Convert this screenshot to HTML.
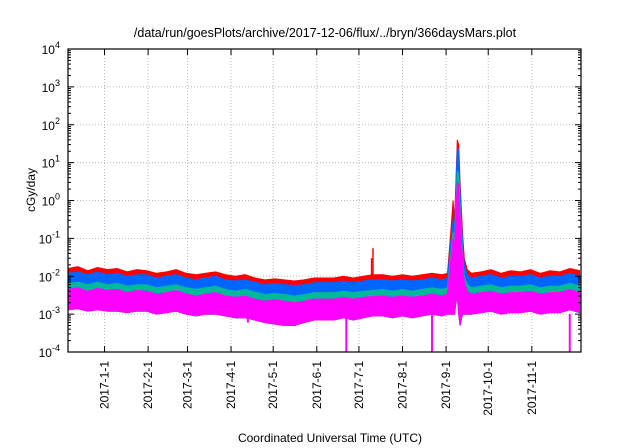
<!DOCTYPE html>
<html><head><meta charset="utf-8"><style>
html,body{margin:0;padding:0;background:#fff;}
svg{display:block;font-family:"Liberation Sans",sans-serif;}
</style></head><body>
<svg id="chart" width="640" height="448" viewBox="0 0 640 448">
<text x="325" y="37" font-size="12.5" text-anchor="middle">/data/run/goesPlots/archive/2017-12-06/flux/../bryn/366daysMars.plot</text>
<text transform="translate(35,190) rotate(-90)" font-size="12" text-anchor="middle">cGy/day</text>
<text x="330" y="442" font-size="12" text-anchor="middle">Coordinated Universal Time (UTC)</text>
<g id="grid"></g><g id="series"></g><g id="axes"></g>
</svg>
<script>
const days=[0,7,14,21,28,35,42,49,56,63,70,77,84,91,98,105,112,119,126,133,140,147,154,161,168,175,182,189,196,203,210,217,224,231,238,245,252,259,266,270,272,274,275,276,277,278,279,280,281,282,284,287,294,301,308,315,322,329,336,343,350,357,364];
const redTop=[0.016,0.018,0.014,0.017,0.015,0.016,0.013,0.015,0.014,0.012,0.013,0.015,0.012,0.011,0.012,0.013,0.011,0.010,0.011,0.009,0.008,0.0085,0.008,0.0075,0.008,0.009,0.009,0.009,0.010,0.009,0.010,0.011,0.011,0.010,0.011,0.010,0.011,0.012,0.011,
0.012,0.1,1.0,0.3,3,40,30,3,0.5,0.1,0.03,0.015,0.012,
0.013,0.015,0.012,0.014,0.013,0.015,0.012,0.014,0.013,0.016,0.014];
const blueTop=[0.012,0.013,0.011,0.013,0.011,0.012,0.010,0.011,0.011,0.009,0.010,0.011,0.009,0.008,0.009,0.010,0.008,0.0075,0.008,0.007,0.006,0.0065,0.006,0.0057,0.006,0.0068,0.0068,0.0068,0.0075,0.0068,0.0075,0.008,0.008,0.0075,0.008,0.0075,0.008,0.009,0.008,
0.009,0.06,0.3,0.2,2,25,20,2,0.3,0.06,0.02,0.011,0.009,
0.010,0.011,0.009,0.010,0.010,0.011,0.009,0.010,0.010,0.012,0.010];
const tealTop=[0.0065,0.007,0.006,0.007,0.006,0.0065,0.0055,0.006,0.006,0.005,0.0055,0.006,0.005,0.0045,0.005,0.0055,0.0045,0.004,0.0045,0.0038,0.0033,0.0035,0.0033,0.003,0.0033,0.0037,0.0037,0.0037,0.004,0.0037,0.004,0.0042,0.0045,0.004,0.0045,0.004,0.0045,0.005,0.0045,
0.005,0.03,0.15,0.1,1,6,5,0.8,0.15,0.03,0.01,0.006,0.005,
0.0055,0.006,0.005,0.0055,0.0055,0.006,0.005,0.0055,0.0055,0.0065,0.0055];
const magentaTop=[0.0045,0.005,0.004,0.0048,0.0042,0.0045,0.0037,0.0042,0.004,0.0034,0.0037,0.0042,0.0034,0.003,0.0034,0.0037,0.003,0.0028,0.003,0.0025,0.0022,0.0024,0.0022,0.002,0.0022,0.0025,0.0025,0.0025,0.0028,0.0025,0.0028,0.0029,0.003,0.0028,0.003,0.0028,0.003,0.0034,0.003,
0.0034,0.02,0.1,0.06,0.5,3,2.5,0.4,0.08,0.02,0.007,0.004,0.0034,
0.0037,0.004,0.0034,0.0037,0.0037,0.004,0.0034,0.0037,0.0037,0.0045,0.0037];
const magentaBottom=[0.0013,0.0014,0.0012,0.0013,0.0012,0.0012,0.0011,0.0012,0.0012,0.001,0.0011,0.0012,0.001,0.0009,0.001,0.001,0.0009,0.0008,0.0008,0.0007,0.0006,0.00055,0.0005,0.0005,0.0006,0.0007,0.0007,0.0007,0.0008,0.0007,0.0008,0.0009,0.0009,0.0008,0.0009,0.0008,0.0009,0.001,0.0009,
0.001,0.001,0.001,0.001,0.002,0.003,0.001,0.0005,0.0008,0.001,0.001,0.001,0.001,
0.0011,0.0012,0.001,0.0011,0.0011,0.0012,0.001,0.0011,0.0011,0.0013,0.0011];
const spikeDays=[216,217];
const spikeValues=[0.03,0.055];
const dipDays=[128,198,259,357];
const dipValues=[0.0006,0.0001,0.0001,0.0001];
const monthLabels=["2017-1-1","2017-2-1","2017-3-1","2017-4-1","2017-5-1","2017-6-1","2017-7-1","2017-8-1","2017-9-1","2017-10-1","2017-11-1"];
const monthDays=[26,57,85,116,146,177,207,238,269,299,330];
const yExponents=[-4,-3,-2,-1,0,1,2,3,4];

const L=68,R=581,T=49,B=352,D0=0,D1=365;
const NS="http://www.w3.org/2000/svg";
function x(d){return L+(d-D0)/(D1-D0)*(R-L);}
function y(v){return B-(Math.log10(v)+4)/8*(B-T);}
function mk(tag,attrs,parent){const e=document.createElementNS(NS,tag);for(const k in attrs)e.setAttribute(k,attrs[k]);parent.appendChild(e);return e;}
const grid=document.getElementById('grid'),ser=document.getElementById('series'),ax=document.getElementById('axes');

yExponents.forEach(function(e){
  const yy=y(Math.pow(10,e));
  if(e>-4&&e<4){const g=mk('line',{x1:L,x2:R,y1:yy,y2:yy,stroke:'#bbb','stroke-dasharray':'1,2','stroke-width':1},grid);
  
  }
  const t=mk('text',{x:L-8,y:yy+5,'font-size':12,'text-anchor':'end'},ax);
  
  
  t.textContent='10';
  const s=mk('tspan',{dy:-6,'font-size':9},t);s.textContent=String(e);
  mk('line',{x1:L,x2:L+6,y1:yy,y2:yy,stroke:'#000'},ax);
  mk('line',{x1:R,x2:R-6,y1:yy,y2:yy,stroke:'#000'},ax);
  if(e<4){for(let m=2;m<10;m++){const ym=y(m*Math.pow(10,e));mk('line',{x1:L,x2:L+3,y1:ym,y2:ym,stroke:'#000'},ax);mk('line',{x1:R,x2:R-3,y1:ym,y2:ym,stroke:'#000'},ax);}}
});
monthDays.forEach(function(d,i){
  const xx=x(d);
  const g=mk('line',{x1:xx,x2:xx,y1:T,y2:B,stroke:'#bbb','stroke-dasharray':'1,2','stroke-width':1},grid);
  
  
  mk('line',{x1:xx,x2:xx,y1:B,y2:B-6,stroke:'#000'},ax);
  mk('line',{x1:xx,x2:xx,y1:T,y2:T+6,stroke:'#000'},ax);
  const t=mk('text',{transform:'translate('+(xx+4)+','+(B+9)+') rotate(-90)','font-size':12,'text-anchor':'end'},ax);
  
  
  t.textContent=monthLabels[i];
});
function band(top,bottom,color,name){
  let p='';
  for(let i=0;i<days.length;i++)p+=(i?'L':'M')+x(days[i]).toFixed(1)+','+y(top[i]).toFixed(1);
  for(let i=days.length-1;i>=0;i--)p+='L'+x(days[i]).toFixed(1)+','+y(bottom[i]).toFixed(1);
  const e=mk('path',{d:p+'Z',fill:color,stroke:color,'stroke-width':1},ser);
  
  
}
band(redTop,magentaBottom,'#ff0000','series-red');
spikeDays.forEach(function(d,i){
  const e=mk('line',{x1:x(d),x2:x(d),y1:y(0.01),y2:y(spikeValues[i]),stroke:'#ff0000','stroke-width':1.5},ser);
  
  
});
band(blueTop,magentaBottom,'#0066ff','series-blue');
band(tealTop,magentaBottom,'#00b89a','series-teal');
band(magentaTop,magentaBottom,'#ff00ff','series-magenta');
dipDays.forEach(function(d,i){
  const e=mk('line',{x1:x(d),x2:x(d),y1:y(0.001),y2:y(dipValues[i]),stroke:'#ff00ff','stroke-width':2},ser);
  
  
});
const f=mk('rect',{x:L,y:T,width:R-L,height:B-T,fill:'none',stroke:'#000','stroke-width':1.2},ax);


</script>
</body></html>
